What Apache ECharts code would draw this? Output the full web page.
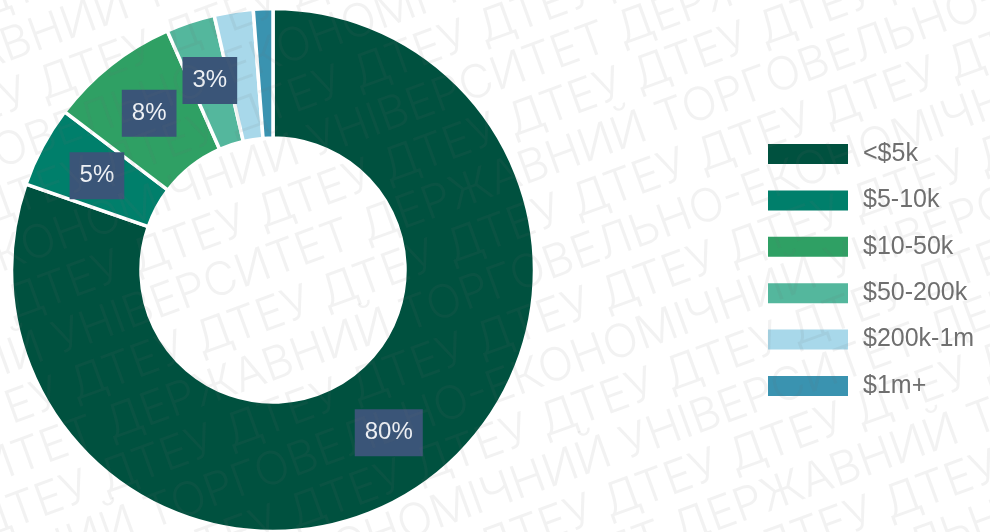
<!DOCTYPE html>
<html>
<head>
<meta charset="utf-8">
<style>html,body{margin:0;padding:0;background:#fff}#chart{width:990px;height:532px}</style>
<script src="https://cdn.jsdelivr.net/npm/echarts@6/dist/echarts.min.js"></script>
</head>
<body>
<div id="chart"></div>
<script>
const categories = ['<$5k', '$5-10k', '$10-50k', '$50-200k', '$200k-1m', '$1m+'];
const shares = [80, 5, 8, 3, 2.4, 1.2];
const labelledShares = [true, true, true, true, false, false];
const colors = ['#00513f', '#007f6b', '#2fa064', '#54b79d', '#a8d8ea', '#3a93b0'];
const stampPhrase = 'ДЕРЖАВНИЙ ТОРГОВЕЛЬНО-ЕКОНОМІЧНИЙ УНІВЕРСИТЕТ ';
const stampAbbrev = 'ДТЕУ ';

// Diagonal institutional stamp: rows alternate between the full name and the abbreviation.
const stampAngle = 0.35;
const phraseLength = 1420;
const stampRows = [];
for (let i = 0; i < 24; i++) {
  const isName = i % 2 === 0;
  const raw = isName ? 590 - 136 * (i - 10) : -40 - 136 * (i - 11);
  const cycle = isName ? phraseLength : 170;
  const along = ((raw % cycle) + cycle) % cycle - cycle;
  stampRows.push({
    type: 'text',
    silent: true,
    z: 100,
    x: -150 + along * Math.cos(stampAngle),
    y: -128 + i * 52 - along * Math.sin(stampAngle),
    rotation: stampAngle,
    style: {
      text: (isName ? stampPhrase : stampAbbrev).repeat(isName ? 3 : 16),
      font: '300 46px Inter',
      fill: 'rgba(110,110,110,0.09)'
    }
  });
}

const chart = echarts.init(document.getElementById('chart'), null, { renderer: 'canvas' });
chart.setOption({
  animation: false,
  backgroundColor: '#ffffff',
  color: colors,
  graphic: stampRows,
  legend: {
    orient: 'vertical',
    left: 768,
    top: 141.5,
    padding: 0,
    icon: 'rect',
    itemWidth: 80,
    itemHeight: 20,
    itemGap: 21.4,
    selectedMode: false,
    itemStyle: { borderWidth: 0 },
    data: categories,
    textStyle: {
      fontFamily: 'Liberation Sans',
      fontSize: 25,
      lineHeight: 20,
      color: '#6f6f6f',
      padding: [0, 0, 0, 10]
    }
  },
  series: [{
    type: 'pie',
    center: [273, 270],
    radius: [132, 261.5],
    startAngle: 90,
    clockwise: true,
    silent: true,
    itemStyle: { borderColor: '#ffffff', borderWidth: 3.5 },
    labelLine: { show: false },
    label: {
      position: 'inside',
      formatter: '{c}%',
      fontFamily: 'Liberation Sans',
      fontSize: 24,
      color: '#eef1f5',
      backgroundColor: '#3a5578',
      padding: [12, 10, 11, 10]
    },
    data: categories.map((name, i) => ({
      name,
      value: shares[i],
      label: { show: labelledShares[i] }
    }))
  }]
});
</script>
</body>
</html>
